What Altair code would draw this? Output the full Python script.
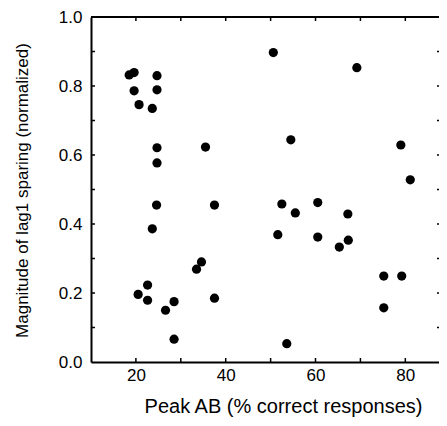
import altair as alt
import pandas as pd

# Data
peak_ab = [18.5, 19.6, 24.7, 19.6, 24.7, 20.7, 23.65, 24.7, 24.7, 35.5,
           50.6, 69.2, 54.5, 79.0, 81.1,
           24.6, 37.5, 23.65, 34.6, 33.5, 22.6, 20.5, 22.6, 28.5, 26.6, 37.5, 28.5,
           52.5, 60.5, 55.5, 67.2, 51.6, 60.5, 67.3, 65.3, 75.2, 79.2, 75.2, 53.6]
sparing = [0.832, 0.839, 0.830, 0.786, 0.789, 0.746, 0.735, 0.621, 0.577, 0.623,
           0.897, 0.853, 0.644, 0.629, 0.528,
           0.455, 0.455, 0.386, 0.290, 0.269, 0.223, 0.196, 0.179, 0.175, 0.150, 0.185, 0.066,
           0.458, 0.462, 0.432, 0.429, 0.369, 0.362, 0.353, 0.333, 0.249, 0.249, 0.157, 0.053]

x_labels = [20, 40, 60, 80]
y_labels = [0.0, 0.2, 0.4, 0.6, 0.8, 1.0]
x_minor = [20, 30, 40, 50, 60, 70, 80]
y_minor = [0.1, 0.2, 0.3, 0.4, 0.5, 0.6, 0.7, 0.8, 0.9]

df = pd.DataFrame({"peak": peak_ab, "sparing": sparing})
xdf = pd.DataFrame({"peak": x_minor})
ydf = pd.DataFrame({"sparing": y_minor})

W, H = 348, 345
FONT = "Liberation Sans"

xs = alt.Scale(domain=[10, 87.5], nice=False, zero=False)
ys = alt.Scale(domain=[0, 1], nice=False, zero=False)

x_axis = alt.Axis(
    values=x_labels, ticks=False, grid=False, domainWidth=2, domainColor="black",
    labelFont=FONT, labelFontSize=17, labelColor="black", labelPadding=5,
    titleFont=FONT, titleFontSize=20,
    titleFontWeight="normal", titleColor="black", titleX=192, titleY=50,
    titleAlign="center", titleBaseline="alphabetic")
y_axis = alt.Axis(
    values=y_labels, format=".1f", ticks=False, grid=False, domainWidth=2,
    domainColor="black", labelFont=FONT, labelFontSize=17, labelColor="black",
    labelPadding=9, titleFont=FONT,
    titleFontSize=17, titleFontWeight="normal", titleColor="black",
    titleX=-69, titleY=173, titleAngle=270, titleAlign="center",
    titleBaseline="middle")

XT = "Peak AB (% correct responses)"
YT = "Magnitude of lag1 sparing (normalized)"

points = alt.Chart(df).mark_circle(size=85, color="black", opacity=1).encode(
    x=alt.X("peak:Q", scale=xs, axis=x_axis, title=XT),
    y=alt.Y("sparing:Q", scale=ys, axis=y_axis, title=YT),
)

top_line = alt.Chart(pd.DataFrame({"sparing": [1.0]})).mark_rule(color="black", strokeWidth=2).encode(
    y=alt.Y("sparing:Q", scale=ys, axis=y_axis, title=YT), x=alt.value(0), x2=alt.value(W))

bottom_ticks = alt.Chart(xdf).mark_rule(color="black", strokeWidth=1.5).encode(
    x=alt.X("peak:Q", scale=xs, axis=x_axis, title=XT), y=alt.value(H), y2=alt.value(H - 4))
top_ticks = alt.Chart(xdf).mark_rule(color="black", strokeWidth=1.5).encode(
    x=alt.X("peak:Q", scale=xs, axis=x_axis, title=XT), y=alt.value(0), y2=alt.value(4))
left_ticks = alt.Chart(ydf).mark_rule(color="black", strokeWidth=1.5).encode(
    y=alt.Y("sparing:Q", scale=ys, axis=y_axis, title=YT), x=alt.value(0), x2=alt.value(4))
right_ticks = alt.Chart(ydf).mark_rule(color="black", strokeWidth=1.5).encode(
    y=alt.Y("sparing:Q", scale=ys, axis=y_axis, title=YT), x=alt.value(W - 2), x2=alt.value(W))

chart = alt.layer(points, top_line, bottom_ticks, top_ticks, left_ticks, right_ticks).properties(
    width=W, height=H,
    autosize=alt.AutoSizeParams(type="none"),
    padding={"left": 83, "top": 9, "right": 0, "bottom": 56},
).configure_view(stroke=None).configure(background="white")

chart.save("out.html", embed_options={"renderer": "svg", "actions": False})
